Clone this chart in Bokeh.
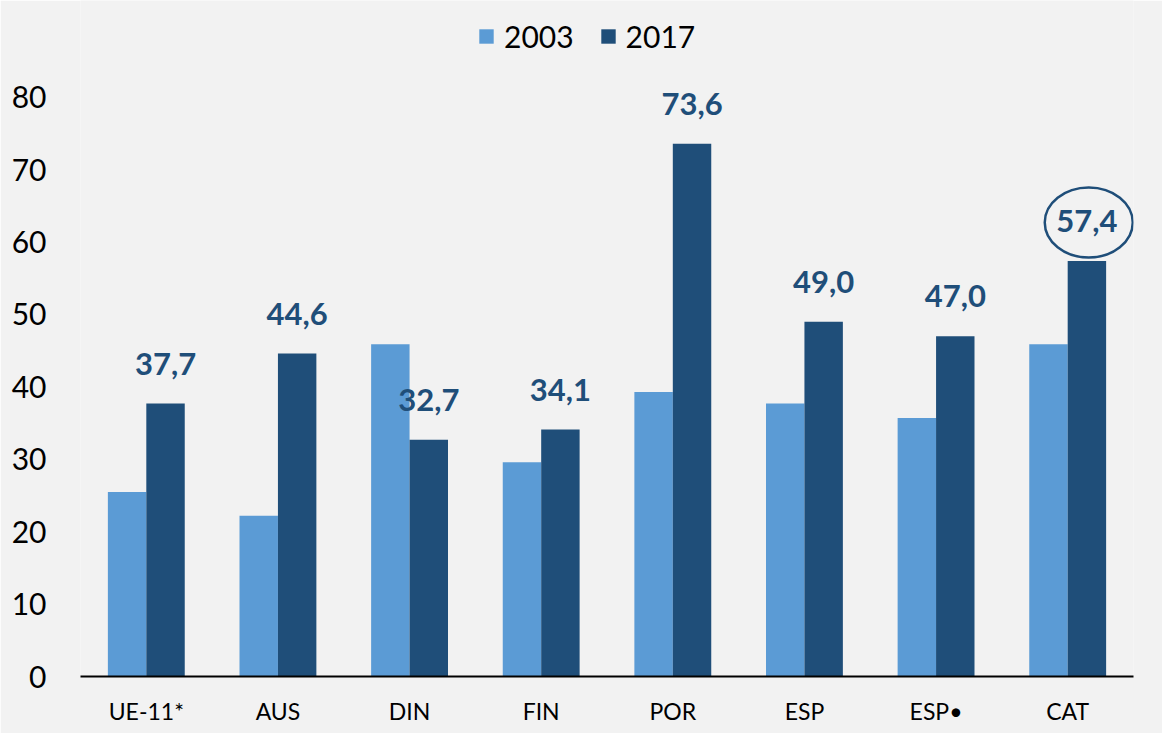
from bokeh.plotting import figure
from bokeh.models import ColumnDataSource, FixedTicker, Legend, LegendItem, Range1d
from bokeh.transform import dodge
from bokeh.core.properties import value
from bokeh.embed import file_html
from bokeh.resources import INLINE

categories = ["UE-11*", "AUS", "DIN", "FIN", "POR", "ESP", "ESP\u2022", "CAT"]
v2003 = [25.5, 22.2, 45.9, 29.6, 39.3, 37.7, 35.7, 45.9]
v2017 = [37.7, 44.6, 32.7, 34.1, 73.6, 49.0, 47.0, 57.4]
labels2017 = [f"{v:.1f}".replace(".", ",") for v in v2017]
y_ticks = [0, 10, 20, 30, 40, 50, 60, 70, 80]
highlight = ["CAT"]

C03 = "#5B9BD5"
C17 = "#1F4E79"
BG = "#F2F2F2"
FONT = "Lato"

src = ColumnDataSource(dict(cat=categories, v03=v2003, v17=v2017, lab=labels2017))

p = figure(x_range=categories, width=1162, height=733, output_backend="svg",
           toolbar_location=None, min_border_left=80, min_border_right=29,
           min_border_top=0, min_border_bottom=57)
p.y_range = Range1d(0, 93.37)
p.background_fill_color = BG
p.border_fill_color = BG
p.outline_line_color = None
p.grid.grid_line_color = None

r03 = p.vbar(x=dodge("cat", -0.146, range=p.x_range), top="v03", width=0.292,
             source=src, fill_color=C03, line_color=None)
r17 = p.vbar(x=dodge("cat", 0.146, range=p.x_range), top="v17", width=0.292,
             source=src, fill_color=C17, line_color=None)

p.text(x=dodge("cat", 0.146, range=p.x_range), y="v17", text="lab", source=src,
       text_font=value(FONT), text_font_style="bold", text_font_size="31px",
       text_color=C17, text_align="center", text_baseline="alphabetic", y_offset=-40)

hsrc = ColumnDataSource(dict(cat=highlight,
                             y=[v2017[categories.index(c)] + 5.3 for c in highlight]))
p.ellipse(x=dodge("cat", 0.16, range=p.x_range), y="y", width=88, height=70,
          width_units="screen", height_units="screen", source=hsrc,
          fill_color=None, line_color=C17, line_width=2.5)

# axes
p.yaxis.ticker = FixedTicker(ticks=y_ticks)
p.yaxis.axis_line_color = None
p.yaxis.major_tick_line_color = None
p.yaxis.minor_tick_line_color = None
p.yaxis.major_tick_out = 0
p.yaxis.major_label_standoff = 34
p.yaxis.major_label_text_font = FONT
p.yaxis.major_label_text_font_size = "30px"
p.yaxis.major_label_text_color = "black"

p.xaxis.axis_line_color = "black"
p.xaxis.axis_line_width = 2
p.xaxis.major_tick_line_color = None
p.xaxis.minor_tick_line_color = None
p.xaxis.major_tick_out = 0
p.xaxis.major_label_standoff = 20
p.xaxis.major_label_text_font = FONT
p.xaxis.major_label_text_font_size = "23px"
p.xaxis.major_label_text_color = "black"

legend = Legend(items=[LegendItem(label="2003", renderers=[r03]),
                       LegendItem(label="2017", renderers=[r17])],
                orientation="horizontal", location=(397, 622),
                glyph_width=18, glyph_height=18, label_standoff=9, spacing=25,
                padding=0, margin=0, border_line_color=None,
                background_fill_alpha=0, label_text_font=FONT,
                label_text_font_size="30px", label_text_color="black")
p.add_layout(legend, "center")

open("out.html", "w").write(file_html(p, INLINE))
